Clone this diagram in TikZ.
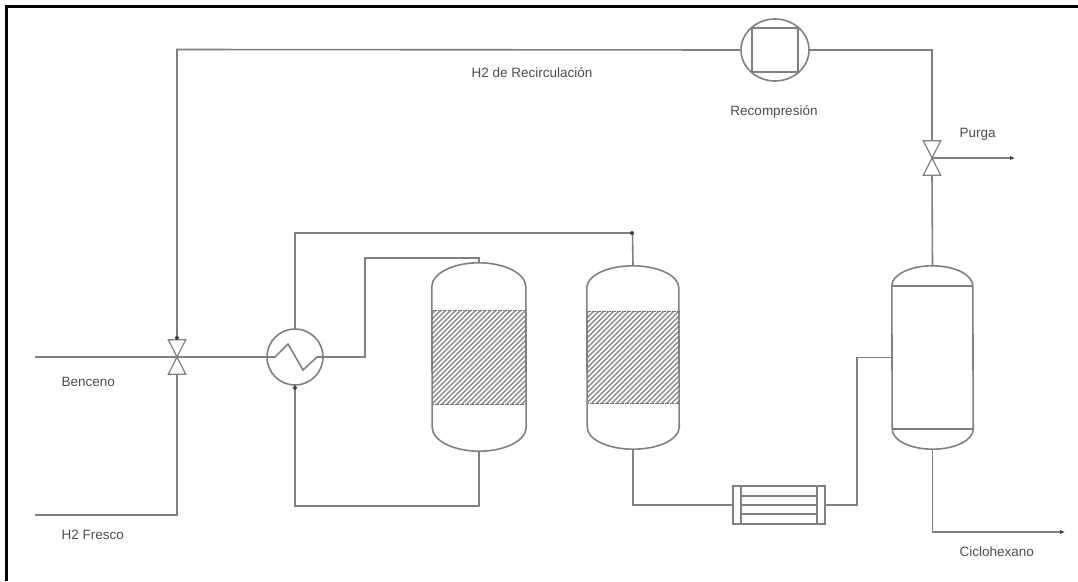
\documentclass[tikz,border=0pt]{standalone}
\usepackage{fontspec}
\setmainfont{Liberation Sans}
\usepackage{tikz}
\usetikzlibrary{arrows.meta,shapes.geometric}
\definecolor{pipegray}{gray}{0.5}
\definecolor{labelgray}{gray}{0.3}
\begin{document}
\begin{tikzpicture}[x=1pt,y=-1pt, every node/.style={font=\fontsize{13.5}{15}\selectfont, text=labelgray}]
\tikzstyle{pipe}=[draw=pipegray, line width=1.6pt]
\tikzstyle{valve}=[minimum width=17pt, minimum height=34pt, inner sep=0pt]
\tikzstyle{vessel}=[inner sep=0pt]
\tikzstyle{bed}=[draw=black!60, line width=0.9pt, dash pattern=on 1.5pt off 1pt, inner sep=0pt, path picture={
  \foreach \d in {-120,-115,...,120}
    \draw[solid, gray!85, line width=1.5pt] ([xshift=\d pt]path picture bounding box.center) ++(-60pt,-60pt) -- ++(120pt,120pt);
}]
\tikzstyle{exchanger}=[pipe, circle, inner sep=0pt, minimum size=56pt]
\useasboundingbox (0,0) rectangle (1078,581);
\fill[white] (0,0) rectangle (1078,581);
\draw[line width=3pt] (6.5,581) -- (6.5,6.5) -- (1078,6.5);
% equipment
\node[valve] (v1) at (177,357) {};
\node[valve] (v2) at (932,158) {};
\foreach \v in {v1,v2}
  \draw[pipe, line width=1.2pt] (\v.north west) -- (\v.north east) -- (\v.south west) -- (\v.south east) -- cycle;
\node[exchanger] (hx) at (295,357) {};
\draw[pipe] (hx.west) -- (275,357) -- (288,344) -- (303,370) -- (317,357) -- (hx.east);
\node[pipe, ellipse, inner sep=0pt, minimum width=68pt, minimum height=62pt] (comp) at (775,50) {};
\node[pipe, rectangle, inner sep=0pt, minimum width=46pt, minimum height=44pt] (compbox) at (775,50) {};
% reactors and flash
\node[vessel, minimum width=94pt, minimum height=188pt] (r1) at (479,357) {};
\node[vessel, minimum width=92pt, minimum height=183pt] (r2) at (633,357.5) {};
\node[vessel, minimum width=81pt, minimum height=183pt] (flash) at (932.5,357.5) {};
\node[bed, minimum width=94pt, minimum height=94pt] (bed1) at (479,357) {};
\node[bed, minimum width=92pt, minimum height=92pt] (bed2) at (633,357) {};
\draw[pipe] ([yshift=-24pt]r1.north west) arc[start angle=180, end angle=0, x radius=47pt, y radius=24pt] -- ([yshift=24pt]r1.south east) arc[start angle=0, end angle=-180, x radius=47pt, y radius=24pt] -- cycle;
\draw[pipe] ([yshift=-22pt]r2.north west) arc[start angle=180, end angle=0, x radius=46pt, y radius=22pt] -- ([yshift=22pt]r2.south east) arc[start angle=0, end angle=-180, x radius=46pt, y radius=22pt] -- cycle;
\draw[pipe] ([yshift=-20pt]flash.north west) arc[start angle=180, end angle=0, x radius=40.5pt, y radius=20pt] -- ([yshift=20pt]flash.south east) arc[start angle=0, end angle=-180, x radius=40.5pt, y radius=20pt] -- cycle;
\draw[pipe] ([yshift=-20pt]flash.north west) -- ([yshift=-20pt]flash.north east);
\draw[pipe] ([yshift=20pt]flash.south west) -- ([yshift=20pt]flash.south east);
% cooler
\node[pipe, rectangle, inner sep=0pt, minimum width=92pt, minimum height=38pt] (cool) at (779,505) {};
\foreach \x in {-38,38}
  \draw[pipe] ([xshift=\x pt]cool.north) -- ([xshift=\x pt]cool.south);
\foreach \y in {-9,0,9}
  \draw[pipe] ([xshift=-38pt,yshift=\y pt]cool.center) -- ([xshift=38pt,yshift=\y pt]cool.center);
% free ends
\coordinate (bencenoin) at (35,357);
\coordinate (h2in) at (35,515);
\coordinate (purgaout) at (1015,158);
\coordinate (cicloout) at (1065,532);
% pipes
\draw[pipe] (bencenoin) -- (v1.center) -- (hx.west);
\draw[pipe] (h2in) -| (v1.south);
\draw[pipe, {Circle[length=4pt,black!75]}-] (v1.north) -- (177,49.5) -- (comp.west);
\draw[pipe] (comp.east) -| (v2.north);
\draw[pipe] (v2.south) -- (flash.north);
\draw[pipe, -{Latex[length=5pt,width=4.5pt,black!75]}] (v2.center) -- (purgaout);
\draw[pipe] (hx.east) -- (365,357) |- (479,258) -- (r1.north);
\draw[pipe, {Circle[length=4pt,black!75]}-] (hx.south) |- (479,506) -- (r1.south);
\draw[pipe] (hx.north) |- (632.5,233) -- (r2.north);
\fill[black!75] (632,233) circle (2pt);
\draw[pipe] (r2.south) |- (cool.west);
\draw[pipe] (cool.east) -- (857,505) |- (flash.west);
\draw[pipe, -{Latex[length=5pt,width=4.5pt,black!75]}] (flash.south) |- (cicloout);
% labels
\node[anchor=west] (lbenceno) at (58,382) {Benceno};
\node[anchor=west] (lh2) at (58,535) {H2 Fresco};
\node[anchor=west] (lrecirc) at (468,73) {H2 de Recirculación};
\node (lrecomp) at (774,112) {Recompresión};
\node[anchor=west] (lpurga) at (956,134) {Purga};
\node[anchor=west] (lciclo) at (956,552) {Ciclohexano};
\end{tikzpicture}
\end{document}
